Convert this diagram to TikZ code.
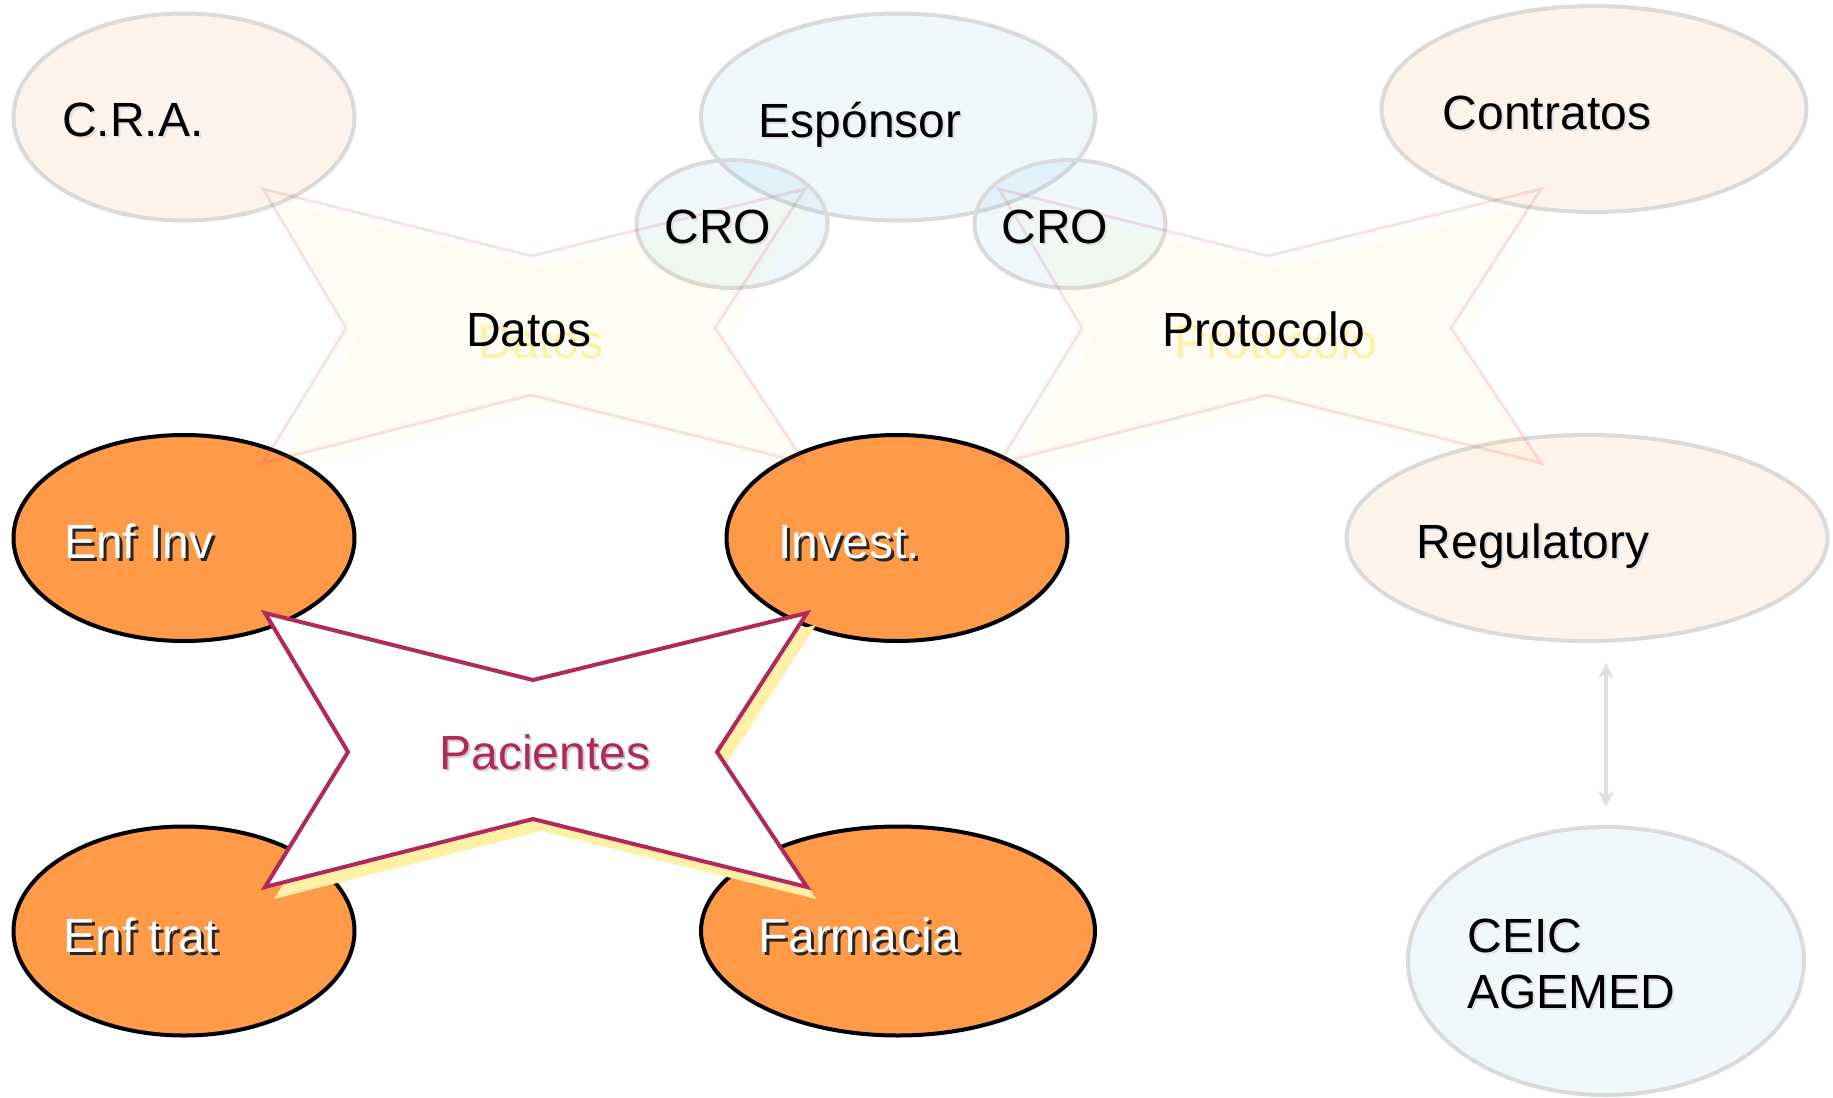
\documentclass[tikz,border=0pt]{standalone}
\usepackage{fontspec}
\setmainfont{Liberation Sans}
\usetikzlibrary{shapes,arrows.meta}
\definecolor{orangefill}{RGB}{255,154,72}
\definecolor{peach}{RGB}{240,130,40}
\definecolor{skyblue}{RGB}{60,170,220}
\definecolor{raspberry}{RGB}{176,40,92}
\definecolor{starpink}{RGB}{200,60,100}
\definecolor{staryellow}{RGB}{255,230,120}
\definecolor{shadowyellow}{RGB}{255,240,165}
% text with a drop shadow: [offset]{shadow}{colour}{text}
\newcommand{\shtext}[4][1pt]{\rlap{\kern#1\raisebox{-#1}{\textcolor{#2}{#4}}}\textcolor{#3}{#4}}
\newcommand*{\starpath}{(-271,-137) -- (-3,-70) -- (271,-137) -- (181,2) -- (271,137) -- (-3,69) -- (-271,137) -- (-188,2) -- cycle}

\begin{document}
\begin{tikzpicture}[x=0.5pt,y=-0.5pt,
    bubble/.style={ellipse,draw=black!14,line width=2pt,inner sep=0pt},
    peachbub/.style={bubble,fill=peach,fill opacity=0.09},
    bluebub/.style={bubble,fill=skyblue,fill opacity=0.08},
    hotbub/.style={ellipse,draw=black,line width=2pt,fill=orangefill,inner sep=0pt},
    lbl/.style={font=\fontsize{24}{28}\selectfont,inner sep=0pt,anchor=base},
    faintstar/.style={draw=starpink,draw opacity=0.15,line width=1.5pt,fill=staryellow,fill opacity=0.035},
    faintshadow/.style={fill=staryellow,fill opacity=0.05},
    patstar/.style={draw=raspberry,line width=2pt,fill=white},
    patshadow/.style={fill=shadowyellow},
    linkarrow/.style={{Stealth[length=8pt,width=8pt]}-{Stealth[length=8pt,width=8pt]},draw=black!12,line width=2pt}]
  \useasboundingbox (0,0) rectangle (1833,1098);

  \foreach \n/\x/\y/\w/\h in {cra/184/117/170.5/103.5,contratos/1594/109/212.5/103,regulatory/1587/538/240.5/103}
    \node[peachbub,minimum width=\w pt,minimum height=\h pt] (\n) at (\x,\y) {};
  \foreach \n/\x/\y/\w/\h in {sponsor/898/117/197/103.5,crol/732/224/95.5/64,cror/1070/224/95.5/64,ceic/1606/961/198/134}
    \node[bluebub,minimum width=\w pt,minimum height=\h pt] (\n) at (\x,\y) {};
  \foreach \n/\x/\y/\w/\h in {enfinv/184/538/170.5/103,invest/897/538/170.5/103,enftrat/184/931/170.5/104.5,farmacia/898/931/197/104.5}
    \node[hotbub,minimum width=\w pt,minimum height=\h pt] (\n) at (\x,\y) {};

  \fill[faintshadow,shift={(545,338)}] \starpath;
  \fill[faintshadow,shift={(1281,338)}] \starpath;
  \draw[faintstar,shift={(534,326)}] \starpath;
  \draw[faintstar,shift={(1270,326)}] \starpath;
  \fill[patshadow,shift={(545,762)}] \starpath;
  \draw[patstar,shift={(536,750)}] \starpath;

  \draw[linkarrow,shorten <=10pt,shorten >=9pt] (ceic.north |- regulatory.south) -- (ceic.north);

  \node[lbl] (tcra) at (133,136) {\shtext{black!12}{black}{C.R.A.}};
  \node[lbl] (tsponsor) at (860,137) {\shtext{black!12}{black}{Espónsor}};
  \node[lbl] (tcrol) at (718,243) {\shtext{black!12}{black}{CRO}};
  \node[lbl] (tcror) at (1055,243) {\shtext{black!12}{black}{CRO}};
  \node[lbl] (tcontratos) at (1547,129) {\shtext{black!12}{black}{Contratos}};
  \node[lbl] (tdatos) at (529,346) {\shtext[6pt]{shadowyellow}{black}{Datos}};
  \node[lbl] (tprotocolo) at (1264,346) {\shtext[6pt]{shadowyellow}{black}{Protocolo}};
  \node[lbl] (tregulatory) at (1533,558) {\shtext{black!12}{black}{Regulatory}};
  \node[lbl] (tenfinv) at (139,558) {\shtext[1.5pt]{black!85}{white}{Enf Inv}};
  \node[lbl] (tinvest) at (849,558) {\shtext[1.5pt]{black!85}{white}{Invest.}};
  \node[lbl] (tenftrat) at (141,952) {\shtext[1.5pt]{black!85}{white}{Enf trat}};
  \node[lbl] (tfarmacia) at (859,952) {\shtext[1.5pt]{black!85}{white}{Farmacia}};
  \node[lbl] (tpacientes) at (545,769) {\shtext{black!20}{raspberry}{Pacientes}};
  \node[lbl,anchor=base west,align=left] (tceic) at (1467,1008) {\shtext{black!12}{black}{CEIC}\\\shtext{black!12}{black}{AGEMED}};
\end{tikzpicture}
\end{document}
